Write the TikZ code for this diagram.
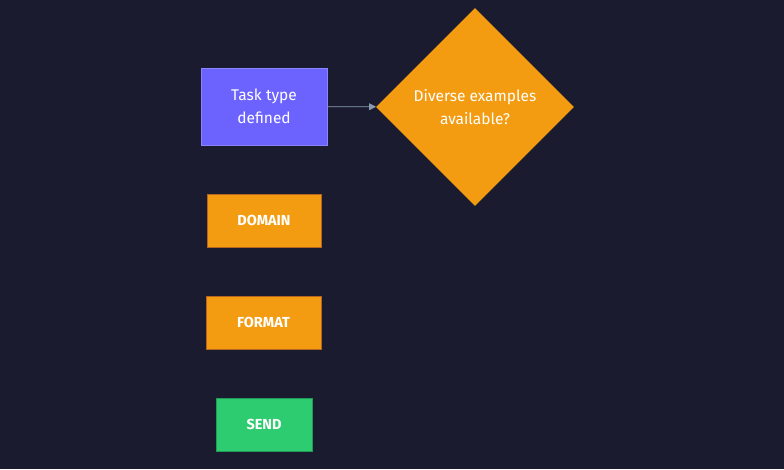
\documentclass[tikz,border=0pt]{standalone}
\usepackage{fontspec}
\setmainfont{Fira Sans}
\usepackage{tikz}
\usetikzlibrary{arrows.meta, shapes.geometric, positioning}
\definecolor{bg}{HTML}{1A1B2E}
\definecolor{taskfill}{HTML}{6C63FF}
\definecolor{taskline}{HTML}{8A84FF}
\definecolor{orangefill}{HTML}{F39C12}
\definecolor{orangeline}{HTML}{B5651D}
\definecolor{greenfill}{HTML}{2ECC71}
\definecolor{greenline}{HTML}{239B56}
\definecolor{edgecol}{HTML}{8A9BB0}

\tikzset{
  box/.style={rectangle, draw, line width=0.8pt, text=white, align=center,
    font=\fontsize{15.5}{23}\selectfont, inner sep=0pt},
  caps/.style={box, font=\fontsize{14.5}{17}\selectfont\bfseries},
  decision/.style={diamond, fill=orangefill, text=white, align=center,
    font=\fontsize{15.5}{23}\selectfont, minimum width=198pt, minimum height=198pt, inner sep=0pt},
  flow/.style={-{Triangle[length=7pt,width=7pt]}, draw=edgecol, line width=0.8pt}
}

\begin{document}
\begin{tikzpicture}[x=1pt, y=-1pt]
\fill[bg] (0,0) rectangle (784,469);
\useasboundingbox (0,0) rectangle (784,469);

\node[box, fill=taskfill, draw=taskline, minimum width=126pt, minimum height=77pt] (task) at (264,106.5) {Task type\\defined};
\node[decision] (diverse) at (475,107) {Diverse examples\\available?};
\node[caps, fill=orangefill, draw=orangeline, minimum width=114pt, minimum height=53pt] (domain) at (264,220.5) {DOMAIN};
\node[caps, fill=orangefill, draw=orangeline, minimum width=115pt, minimum height=53pt] (format) at (263.5,322.5) {FORMAT};
\node[caps, fill=greenfill, draw=greenline, minimum width=96pt, minimum height=53pt] (send) at (264,424.5) {SEND};

\draw[flow] (task) -- (diverse);
\end{tikzpicture}
\end{document}
